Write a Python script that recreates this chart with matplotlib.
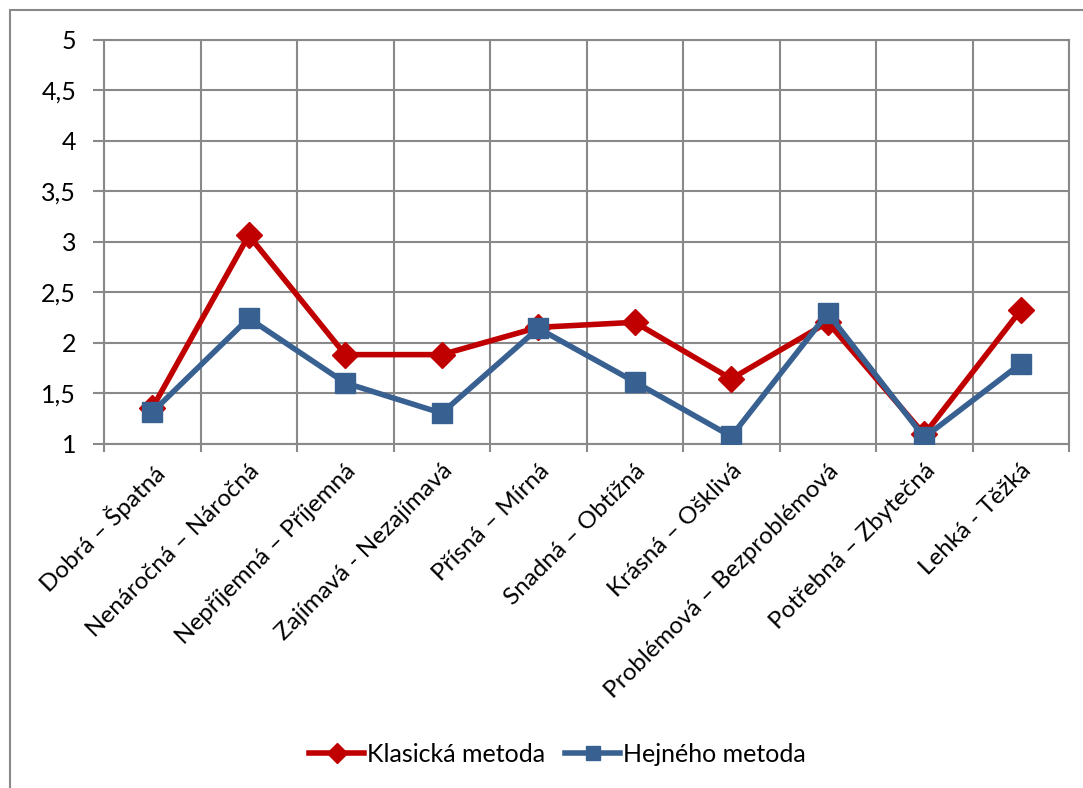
import matplotlib
matplotlib.use("Agg")
import matplotlib.pyplot as plt
import numpy as np
from matplotlib.patches import Rectangle

categories = ["Dobrá – Špatná", "Nenáročná – Náročná", "Nepříjemná – Příjemná",
              "Zajímavá - Nezajímavá", "Přísná – Mírná", "Snadná – Obtížná",
              "Krásná – Ošklivá", "Problémová – Bezproblémová", "Potřebná – Zbytečná",
              "Lehká - Těžká"]
klasicka = [1.35, 3.06, 1.88, 1.88, 2.15, 2.20, 1.64, 2.20, 1.09, 2.32]
hejneho = [1.31, 2.24, 1.60, 1.30, 2.14, 1.61, 1.07, 2.29, 1.06, 1.79]
yticks = [1, 1.5, 2, 2.5, 3, 3.5, 4, 4.5, 5]
yticklabels = ["1", "1,5", "2", "2,5", "3", "3,5", "4", "4,5", "5"]

plt.rcParams['font.family'] = ['Lato', 'DejaVu Sans']

W, H = 1083, 788
fig = plt.figure(figsize=(W/100, H/100), dpi=100)
ax = fig.add_axes([104/W, 1-443.5/H, (1069-104)/W, (443.5-39.5)/H])

x = np.arange(len(categories))
red = "#C00000"
blue = "#386192"
ax.plot(x, klasicka, color=red, lw=4, marker="D", ms=13, label="Klasická metoda", zorder=3)
ax.plot(x, hejneho, color=blue, lw=4, marker="s", ms=14, label="Hejného metoda", zorder=4)

ax.set_xlim(-0.5, len(categories)-0.5)
ax.set_ylim(1, 5)
ax.set_yticks(yticks)
ax.set_yticklabels(yticklabels, fontsize=18)
ax.set_xticks(x)
ax.set_xticklabels(categories, rotation=45, ha="right", rotation_mode="anchor", fontsize=17.5)
ax.set_xticks(np.arange(-0.5, len(categories), 1), minor=True)
ax.tick_params(axis="x", which="major", length=0, pad=12)
ax.tick_params(axis="x", which="minor", length=6, color="#898989", width=1.5)
ax.tick_params(axis="y", length=8, color="#898989", width=1.5, pad=12)
ax.grid(True, axis="y", color="#898989", lw=1.5)
ax.grid(True, axis="x", which="minor", color="#898989", lw=1.5)
for s in ax.spines.values():
    s.set_color("#898989")
    s.set_linewidth(1.5)

leg = fig.legend(loc="center", bbox_to_anchor=(0.515, 1-754/H), ncol=2, frameon=False,
                 fontsize=18, handlelength=2.2, handletextpad=0.12, columnspacing=0.8,
                 markerscale=0.75)

fig.patches.append(Rectangle((10/W, -0.1), 2, 1.1 - 10/H, transform=fig.transFigure,
                             fill=False, edgecolor="#898989", lw=1.5))

fig.savefig("out.png", dpi=100)
